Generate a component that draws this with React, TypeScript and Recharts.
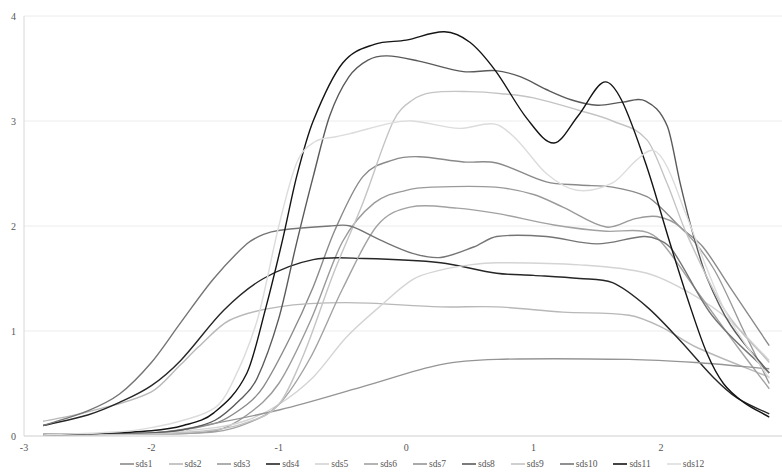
import React from "react";
import { LineChart, Line, XAxis, YAxis, CartesianGrid, Legend } from "recharts";

type P = [number, number];

const seriesNames = ["sds1","sds2","sds3","sds4","sds5","sds6","sds7","sds8","sds9","sds10","sds11","sds12"];
const seriesColors = ["#8a8a8a","#b8b8b8","#9a9a9a","#262626","#d4d4d4","#a2a2a2","#959595","#5a5a5a","#c4c4c4","#757575","#141414","#dcdcdc"];

const xTicks = [-3, -2, -1, 0, 1, 2];
const yTicks = [0, 1, 2, 3, 4];

const sds1: P[] = [[-2.85,0.01],[-2,0.03],[-1.5,0.12],[-1.25,0.3],[-1.12,0.47],[-0.91,0.94],[-0.73,1.42],[-0.56,1.96],[-0.34,2.47],[-0.1,2.63],[0.1,2.66],[0.45,2.61],[0.71,2.6],[1.1,2.42],[1.36,2.39],[1.62,2.37],[1.89,2.28],[2.02,2.15],[2.15,1.99],[2.33,1.8],[2.54,1.42],[2.85,0.86]];
const sds2: P[] = [[-2.85,0.14],[-2.5,0.23],[-2,0.42],[-1.77,0.68],[-1.63,0.85],[-1.39,1.1],[-1.0,1.23],[-0.47,1.27],[0.27,1.23],[0.71,1.23],[1.23,1.18],[1.75,1.15],[2.0,1.04],[2.27,0.85],[2.85,0.56]];
const sds3: P[] = [[-2.85,0.01],[-2,0.02],[-1.5,0.05],[-1.25,0.2],[-1,0.5],[-0.75,1.1],[-0.5,1.85],[-0.25,2.22],[0,2.34],[0.2,2.37],[0.7,2.37],[1.0,2.3],[1.23,2.18],[1.57,1.99],[1.8,2.07],[1.97,2.09],[2.15,1.99],[2.41,1.6],[2.65,1.0],[2.85,0.5]];
const sds4: P[] = [[-2.85,0.1],[-2.5,0.2],[-2.25,0.32],[-2,0.48],[-1.77,0.72],[-1.43,1.2],[-1.12,1.5],[-0.73,1.68],[-0.33,1.69],[0.27,1.65],[0.71,1.55],[1.0,1.53],[1.36,1.5],[1.62,1.46],[1.89,1.23],[2.15,0.91],[2.41,0.56],[2.6,0.36],[2.85,0.21]];
const sds5: P[] = [[-2.85,0.01],[-2,0.03],[-1.5,0.08],[-1.25,0.15],[-1,0.3],[-0.73,0.56],[-0.47,0.94],[-0.21,1.23],[0.05,1.49],[0.27,1.58],[0.5,1.63],[0.71,1.65],[1.36,1.63],[1.89,1.55],[2.23,1.36],[2.54,1.1],[2.85,0.72]];
const sds6: P[] = [[-2.85,0.01],[-2,0.02],[-1.5,0.04],[-1.25,0.12],[-1,0.3],[-0.75,0.75],[-0.5,1.4],[-0.23,2.0],[0.03,2.18],[0.4,2.17],[0.71,2.12],[1.16,2.01],[1.57,1.95],[1.86,1.95],[2.0,1.85],[2.3,1.35],[2.6,0.85],[2.85,0.45]];
const sds7: P[] = [[-2.85,0.02],[-2,0.03],[-1.77,0.06],[-0.99,0.25],[-0.34,0.47],[0.27,0.68],[0.71,0.73],[1.75,0.73],[2.27,0.7],[2.85,0.64]];
const sds8: P[] = [[-2.85,0.01],[-2,0.03],[-1.75,0.06],[-1.5,0.15],[-1.3,0.35],[-1.17,0.55],[-1.0,1.12],[-0.86,1.84],[-0.73,2.47],[-0.6,3.05],[-0.45,3.42],[-0.3,3.58],[-0.15,3.62],[0.1,3.57],[0.45,3.47],[0.7,3.48],[0.9,3.42],[1.1,3.3],[1.3,3.2],[1.5,3.15],[1.7,3.18],[1.88,3.19],[2.05,2.95],[2.15,2.41],[2.25,1.93],[2.36,1.51],[2.55,1.05],[2.85,0.6]];
const sds9: P[] = [[-2.85,0.01],[-2,0.02],[-1.5,0.06],[-1.25,0.13],[-1,0.3],[-0.8,0.79],[-0.57,1.55],[-0.34,2.22],[-0.1,3.0],[0.05,3.2],[0.2,3.27],[0.5,3.28],[0.75,3.26],[1.0,3.22],[1.36,3.1],[1.62,3.0],[1.89,2.82],[2.05,2.4],[2.2,1.93],[2.5,1.2],[2.85,0.7]];
const sds10: P[] = [[-2.85,0.1],[-2.5,0.24],[-2.25,0.4],[-2,0.7],[-1.77,1.08],[-1.51,1.5],[-1.25,1.83],[-1.12,1.92],[-0.99,1.96],[-0.6,2.0],[-0.44,2.0],[-0.21,1.87],[0.05,1.74],[0.27,1.7],[0.53,1.8],[0.71,1.9],[1.1,1.9],[1.5,1.83],[1.86,1.9],[1.98,1.87],[2.09,1.77],[2.4,1.15],[2.85,0.6]];
const sds11: P[] = [[-2.85,0.01],[-2.5,0.02],[-2,0.05],[-1.75,0.1],[-1.51,0.22],[-1.25,0.6],[-1.1,1.23],[-0.97,1.87],[-0.86,2.47],[-0.73,3.0],[-0.5,3.55],[-0.25,3.73],[0,3.77],[0.3,3.85],[0.5,3.75],[0.7,3.48],[0.95,3.02],[1.16,2.79],[1.35,3.05],[1.55,3.37],[1.69,3.2],[1.89,2.56],[2.07,1.84],[2.23,1.23],[2.36,0.79],[2.49,0.5],[2.65,0.32],[2.85,0.18]];
const sds12: P[] = [[-2.85,0.01],[-2.25,0.04],[-2,0.08],[-1.75,0.15],[-1.5,0.27],[-1.38,0.47],[-1.17,1.1],[-1.0,2.0],[-0.86,2.6],[-0.72,2.8],[-0.55,2.85],[-0.44,2.88],[-0.12,2.98],[0.05,3.0],[0.42,2.93],[0.7,2.97],[0.87,2.82],[1.1,2.5],[1.34,2.34],[1.62,2.41],[1.81,2.63],[1.94,2.72],[2.05,2.56],[2.2,2.1],[2.5,1.2],[2.85,0.55]];

const seriesValues: P[][] = [sds1,sds2,sds3,sds4,sds5,sds6,sds7,sds8,sds9,sds10,sds11,sds12];

const FONT = "'Liberation Serif', 'DejaVu Serif', serif";

// Smooth curve through the points (cubic Hermite with centred slopes, like spreadsheet smoothing)
const smoothCurve: any = (context: any) => {
  let pts: number[][] = [];
  return {
    areaStart() {},
    areaEnd() {},
    lineStart() { pts = []; },
    lineEnd() {
      const n = pts.length;
      if (!n) return;
      context.moveTo(pts[0][0], pts[0][1]);
      if (n === 1) return;
      const m = pts.map((_p, i) => {
        const a = pts[Math.max(0, i - 1)];
        const b = pts[Math.min(n - 1, i + 1)];
        return (b[1] - a[1]) / (b[0] - a[0]);
      });
      for (let i = 0; i < n - 1; i++) {
        const p = pts[i];
        const q = pts[i + 1];
        const dx = (q[0] - p[0]) / 3;
        context.bezierCurveTo(p[0] + dx, p[1] + m[i] * dx, q[0] - dx, q[1] - m[i + 1] * dx, q[0], q[1]);
      }
    },
    point(x: number, y: number) { pts.push([+x, +y]); },
  };
};

const LegendContent = () => (
  <div style={{ display: "flex", justifyContent: "center", alignItems: "center", fontFamily: FONT, fontSize: 9.5, color: "#555", height: 16, paddingLeft: 58 }}>
    {seriesNames.map((n, i) => (
      <span key={n} style={{ display: "inline-flex", alignItems: "center", marginRight: 16 }}>
        <svg width={14} height={4}>
          <line x1={0} y1={2} x2={14} y2={2} stroke={seriesColors[i]} strokeWidth={1.6} />
        </svg>
        <span style={{ marginLeft: 2 }}>{n}</span>
      </span>
    ))}
  </div>
);

export default function App() {
  return (
    <div style={{ position: "absolute", left: 0, top: 0, background: "#fff" }}>
      <LineChart width={782} height={472} margin={{ top: 16, right: 0, left: 0, bottom: 0 }}>
        <CartesianGrid horizontal vertical={false} stroke="#ececec" />
        <XAxis
          dataKey="x"
          type="number"
          domain={[-3, 2.95]}
          ticks={xTicks}
          allowDataOverflow
          axisLine={{ stroke: "#d8d8d8" }}
          tickLine={false}
          tickSize={0}
          tickMargin={8}
          height={20}
          tick={{ fontFamily: FONT, fontSize: 10, fill: "#555" }}
        />
        <YAxis
          type="number"
          domain={[0, 4]}
          ticks={yTicks}
          axisLine={{ stroke: "#d8d8d8" }}
          tickLine={false}
          tickSize={0}
          tickMargin={8}
          width={24}
          tick={{ fontFamily: FONT, fontSize: 10, fill: "#555" }}
        />
        <Legend verticalAlign="bottom" height={16} content={LegendContent} />
        {seriesValues.map((pts, i) => (
          <Line
            key={seriesNames[i]}
            name={seriesNames[i]}
            data={pts.map(([x, y]) => ({ x, y }))}
            dataKey="y"
            type={smoothCurve}
            stroke={seriesColors[i]}
            strokeWidth={1.4}
            dot={false}
            activeDot={false}
            isAnimationActive={false}
          />
        ))}
      </LineChart>
    </div>
  );
}
